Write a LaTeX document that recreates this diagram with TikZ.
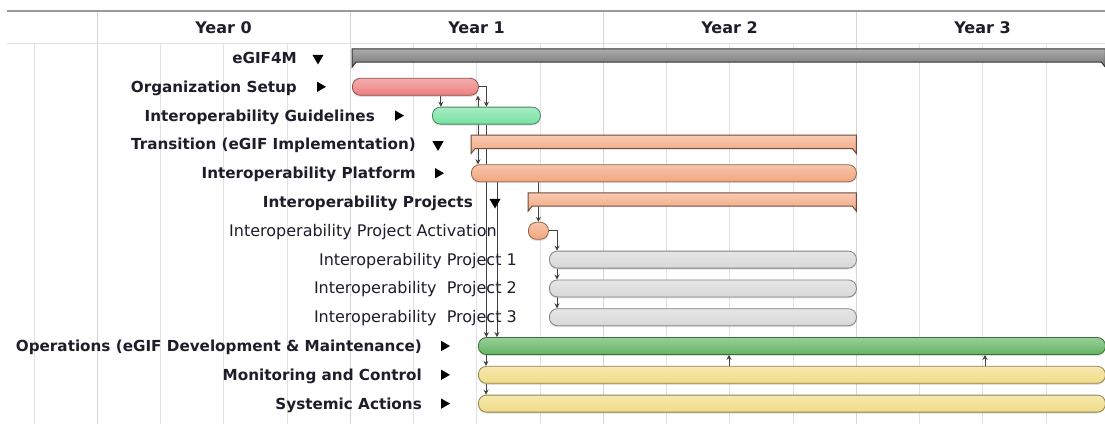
\documentclass[tikz,border=0pt]{standalone}
\usepackage{fontspec}
\setmainfont{DejaVu Sans}
\usetikzlibrary{positioning,arrows.meta,shapes.geometric,shadows}

\definecolor{txt}{HTML}{1E1E2A}
\definecolor{gridc}{HTML}{E2E2E2}
\definecolor{egifgray}{HTML}{747474}
\definecolor{orgred}{HTML}{EE8080}
\definecolor{guidegreen}{HTML}{78E2A2}
\definecolor{salmon}{HTML}{F3A67F}
\definecolor{projgray}{HTML}{D8D8D8}
\definecolor{opsgreen}{HTML}{62B462}
\definecolor{yellowbar}{HTML}{F0DC86}

\pgfdeclarelayer{back}
\pgfsetlayers{back,main}

\tikzset{
  task/.style={rectangle, rounded corners=8pt, draw=#1!60!black, line width=0.8pt,
    top color=#1!65!white, bottom color=#1, minimum height=17pt, inner sep=0pt,
    anchor=west, drop shadow={shadow xshift=0pt, shadow yshift=-1.5pt, opacity=0.25}},
  sumbox/.style={rectangle, minimum height=13pt, inner sep=0pt, anchor=west},
  lbl/.style={font=\fontsize{15.2}{18}\selectfont\bfseries, text=txt, inner sep=0pt,
    text height=12pt, text depth=1pt},
  plainlbl/.style={font=\fontsize{16}{18}\selectfont, text=txt, inner sep=0pt,
    text height=12pt, text depth=1pt},
  yearlbl/.style={font=\fontsize{16}{18}\selectfont\bfseries, text=txt},
  openmark/.style={regular polygon, regular polygon sides=3, fill=black, inner sep=0pt,
    minimum size=13pt, shape border rotate=180},
  closedmark/.style={regular polygon, regular polygon sides=3, fill=black, inner sep=0pt,
    minimum size=12pt, shape border rotate=-90},
  dep/.style={draw=black!75, line width=0.8pt, -{Stealth[length=5pt,width=5pt]}},
  depboth/.style={dep, {Stealth[length=5pt,width=5pt]}-{Stealth[length=5pt,width=5pt]}},
}

% summary bar with the two end ticks
\newcommand{\sumbar}[2]{%
  \shadedraw[top color=#2!60!white, bottom color=#2, draw=#2!45!black, line width=1pt]
    (#1.north west) -- (#1.north east) -- ([yshift=-5pt]#1.south east)
    -- ([xshift=-4pt]#1.south east) -- ([xshift=4pt]#1.south west)
    -- ([yshift=-5pt]#1.south west) -- cycle;}

\begin{document}
\begin{tikzpicture}[x=1pt, y=-1pt]
    \useasboundingbox (0,0) rectangle (1105,424);
    \begin{pgfonlayer}{back}
        \fill[white] (0,0) rectangle (1105,424);
        \foreach \k in {0,...,16}
            \draw[gridc, line width=0.8pt] ({34+63.25*\k},43) -- ({34+63.25*\k},424);
        \foreach \k in {0,...,3}
            \draw[black!16, line width=0.8pt] ({97+253*\k},11) -- ({97+253*\k},424);
        \draw[black!12, line width=0.8pt] (7,43) -- (1105,43);
        \draw[black!40, line width=1.4pt] (7,11) -- (1105,11);
    \end{pgfonlayer}

    \foreach \k in {0,...,3}
        \node[yearlbl] (y\k) at ({223.5+253*\k},28) {Year \k};

    % bars
    \node[sumbox, minimum width=753pt] (egif) at (352,55.5) {};
    \sumbar{egif}{egifgray}
    \node[task=orgred, minimum width=126pt] (org) at (352,86.8) {};
    \node[task=guidegreen, minimum width=108pt] (guide) at (432,115.6) {};
    \node[sumbox, minimum width=385pt] (trans) at (471,141.9) {};
    \sumbar{trans}{salmon}
    \node[task=salmon, minimum width=385pt] (plat) at (471,173.2) {};
    \node[sumbox, minimum width=328pt] (projs) at (528,199.5) {};
    \sumbar{projs}{salmon}
    \node[task=salmon, minimum width=20pt] (act) at (528,230.8) {};
    \node[task=projgray, minimum width=307pt] (prj1) at (549,259.6) {};
    \node[task=projgray, minimum width=307pt] (prj2) at (549,288.4) {};
    \node[task=projgray, minimum width=307pt] (prj3) at (549,317.2) {};
    \node[task=opsgreen, minimum width=627pt] (ops) at (478,346) {};
    \node[task=yellowbar, minimum width=627pt] (mon) at (478,374.8) {};
    \node[task=yellowbar, minimum width=627pt] (sys) at (478,403.6) {};

    % outline markers
    \node[openmark] (m-egif) at (318,58) {};
    \node[closedmark] (m-org) at (320,86.8) {};
    \node[closedmark] (m-guide) at (398,115.6) {};
    \node[openmark] (m-trans) at (438,144.4) {};
    \node[closedmark] (m-plat) at (438,173.2) {};
    \node[openmark] (m-projs) at (495,202) {};
    \node[closedmark] (m-ops) at (444,346) {};
    \node[closedmark] (m-mon) at (444,374.8) {};
    \node[closedmark] (m-sys) at (444,403.6) {};

    % task names
    \node[lbl, left=21pt of m-egif.center] (l-egif) {eGIF4M};
    \node[lbl, left=23pt of m-org.center] (l-org) {Organization Setup};
    \node[lbl, left=23pt of m-guide.center] (l-guide) {Interoperability Guidelines};
    \node[lbl, left=22pt of m-trans.center] (l-trans) {Transition (eGIF Implementation)};
    \node[lbl, left=22pt of m-plat.center] (l-plat) {Interoperability Platform};
    \node[lbl, left=22pt of m-projs.center] (l-projs) {Interoperability Projects};
    \node[plainlbl, left=31pt of act] (l-act) {Interoperability Project Activation};
    \node[plainlbl, left=32pt of prj1] (l-prj1) {Interoperability Project 1};
    \node[plainlbl, left=32pt of prj2] (l-prj2) {Interoperability\ \ Project 2};
    \node[plainlbl, left=32pt of prj3] (l-prj3) {Interoperability\ \ Project 3};
    \node[lbl, left=22pt of m-ops.center] (l-ops) {Operations (eGIF Development \& Maintenance)};
    \node[lbl, left=22pt of m-mon.center] (l-mon) {Monitoring and Control};
    \node[lbl, left=22pt of m-sys.center] (l-sys) {Systemic Actions};

    % dependencies
    \begin{pgfonlayer}{back}
        \coordinate (o1) at ([xshift=-38pt]org.south east);
        \draw[dep] (o1) -- (o1 |- guide.north);
        \draw[dep] (org.east) -| (guide.north);
        \coordinate (o3) at ([xshift=7pt]plat.north west);
        \draw[depboth] (o3 |- org.south) -- (o3);
        \draw[dep] (guide.south) -- (guide.south |- ops.north);
        \coordinate (p1) at ([xshift=26pt]plat.south west);
        \draw[dep] (p1) -- (p1 |- ops.north);
        \draw[dep] (act.north |- plat.south) -- (act.north);
        \draw[dep] (act.east) -| ([xshift=8pt]prj1.north west);
        \draw[dep] ([xshift=8pt]prj1.south west) -- ([xshift=8pt]prj2.north west);
        \draw[dep] ([xshift=8pt]prj2.south west) -- ([xshift=8pt]prj3.north west);
        \draw[dep] ([xshift=8pt]ops.south west) -- ([xshift=8pt]mon.north west);
        \draw[dep] ([xshift=8pt]mon.south west) -- ([xshift=8pt]sys.north west);
        \draw[dep] ([xshift=251pt]mon.north west) -- ([xshift=251pt]ops.south west);
        \draw[dep] ([xshift=507pt]mon.north west) -- ([xshift=507pt]ops.south west);
    \end{pgfonlayer}
\end{tikzpicture}
\end{document}
